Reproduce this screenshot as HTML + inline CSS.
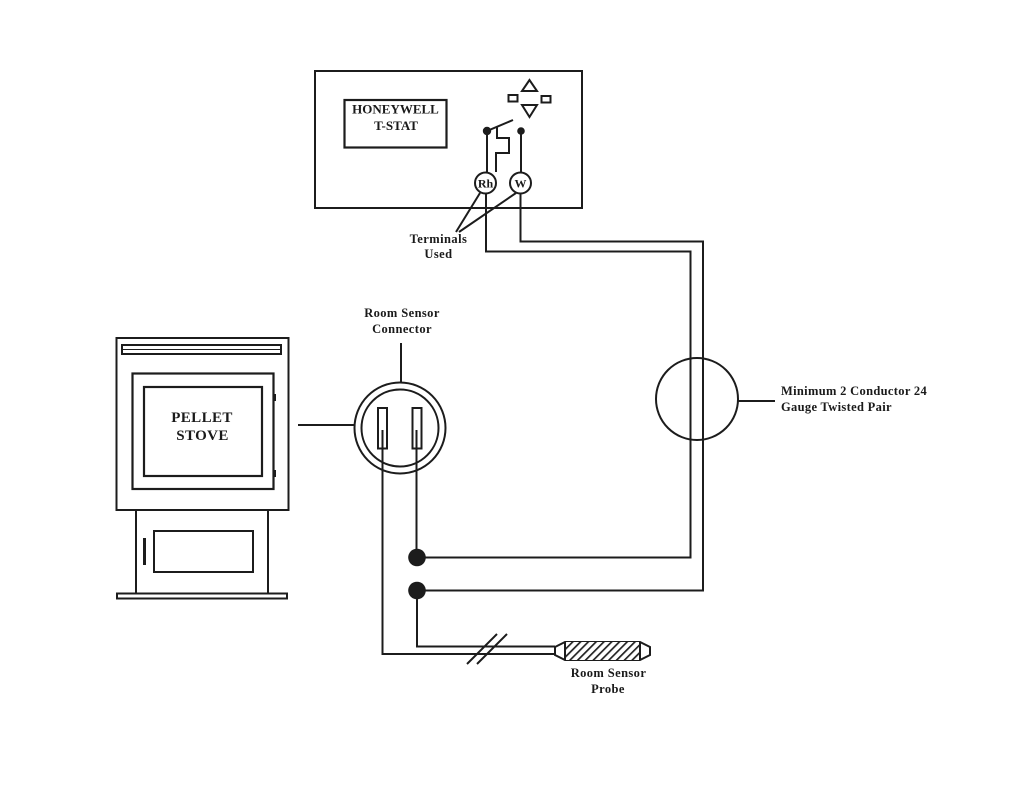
<!DOCTYPE html>
<html>
<head>
<meta charset="utf-8">
<style>
html,body{margin:0;padding:0;background:#fff;}
svg{display:block;}
text{font-family:"Liberation Serif",serif;font-weight:bold;fill:#1a1a1a;}
</style>
</head>
<body>
<svg width="1035" height="800" viewBox="0 0 1035 800" xmlns="http://www.w3.org/2000/svg">
<defs>
<pattern id="h" width="5.5" height="5.500" patternUnits="userSpaceOnUse" patternTransform="rotate(45)">
<rect width="5.500" height="5.500" fill="#fff"/>
<rect width="1.700" height="5.500" fill="#222"/>
</pattern>
</defs>
<rect width="1035" height="800" fill="#fff"/>
<g fill="none" stroke="#1c1c1c" stroke-width="2">
<!-- T-stat -->
<rect x="315" y="71" width="267" height="137"/>
<rect x="344.5" y="100" width="102" height="47.5" stroke-width="2.200"/>
<polygon points="529.500,80 522,91 537,91"/>
<polygon points="522,105 537,105 529.500,117"/>
<rect x="508.500" y="95" width="9" height="6.500"/>
<rect x="541.500" y="96" width="9" height="6.500"/>
<path d="M487 131L513 120"/>
<path d="M497 127V138H509V153H496V172"/>
<path d="M487 131V173M521 131V173"/>
<circle cx="485.500" cy="183" r="10.500"/>
<circle cx="520.500" cy="183" r="10.500"/>
<path d="M480 193L456 232M516 193L459 232"/>
<!-- wires -->
<path d="M486 194V251.500H690.500V557.500H417"/>
<path d="M520.500 194V241.500H703V590.500H417"/>
<circle cx="697" cy="399" r="41"/>
<path d="M738 401H775"/>
<!-- connector -->
<circle cx="400" cy="428" r="45.500"/>
<circle cx="400" cy="428" r="38.500"/>
<rect x="378" y="408" width="9" height="40.500"/>
<rect x="412.500" y="408" width="9" height="40.500"/>
<path d="M382.500 430V654H555"/>
<path d="M416.500 430V557M417 590V646.500H555"/>
<path d="M401 343V382M298 425H355"/>
<path d="M467 664L497 634M477 664L507 634"/>
<!-- probe -->
<polygon points="555,647 565,642 640,642 650,647 650,655 640,660 565,660 555,655" fill="#fff"/>
<rect x="566" y="642" width="73" height="18" fill="url(#h)" stroke="none"/>
<path d="M565 642V660M640 642V660"/>
<!-- stove -->
<rect x="116.500" y="338" width="172" height="172"/>
<rect x="122" y="345" width="159" height="9"/>
<path d="M122 349.500H281" stroke-width="1"/>
<rect x="132.500" y="373.500" width="141" height="115.500" stroke-width="2.200"/>
<rect x="144" y="387" width="118" height="89" stroke-width="2.200"/>
<path d="M136 510V593.500M268 510V593.500"/>
<rect x="154" y="531" width="99" height="41"/>
<rect x="117" y="593.500" width="170" height="5"/>
</g>
<g fill="#1c1c1c">
<circle cx="487" cy="131" r="4.200"/>
<circle cx="521" cy="131" r="3.800"/>
<circle cx="417" cy="557.500" r="8.800"/>
<circle cx="417" cy="590.500" r="8.800"/>
<rect x="273" y="394" width="3" height="7"/>
<rect x="273" y="470" width="3" height="7"/>
<rect x="143" y="538" width="3" height="27"/>
</g>
<g text-anchor="middle" font-size="12.500">
<text x="395.500" y="113.500" font-size="13">HONEYWELL</text>
<text x="396" y="130" font-size="13">T-STAT</text>
<text x="485.500" y="187.500" font-size="12">Rh</text>
<text x="520.500" y="187.500" font-size="12">W</text>
<text x="438.500" y="243" letter-spacing=".45">Terminals</text>
<text x="438.500" y="258" letter-spacing=".45">Used</text>
<text x="402" y="317" letter-spacing=".4">Room Sensor</text>
<text x="402" y="333" letter-spacing=".4">Connector</text>
<text x="202" y="422" font-size="15" letter-spacing=".4">PELLET</text>
<text x="202.500" y="440" font-size="15" letter-spacing=".4">STOVE</text>
<text x="608.500" y="677" letter-spacing=".4">Room Sensor</text>
<text x="608" y="693" letter-spacing=".4">Probe</text>
</g>
<g font-size="12.500" letter-spacing=".32">
<text x="781" y="395">Minimum 2 Conductor 24</text>
<text x="781" y="411">Gauge Twisted Pair</text>
</g>
</svg>
</body>
</html>
